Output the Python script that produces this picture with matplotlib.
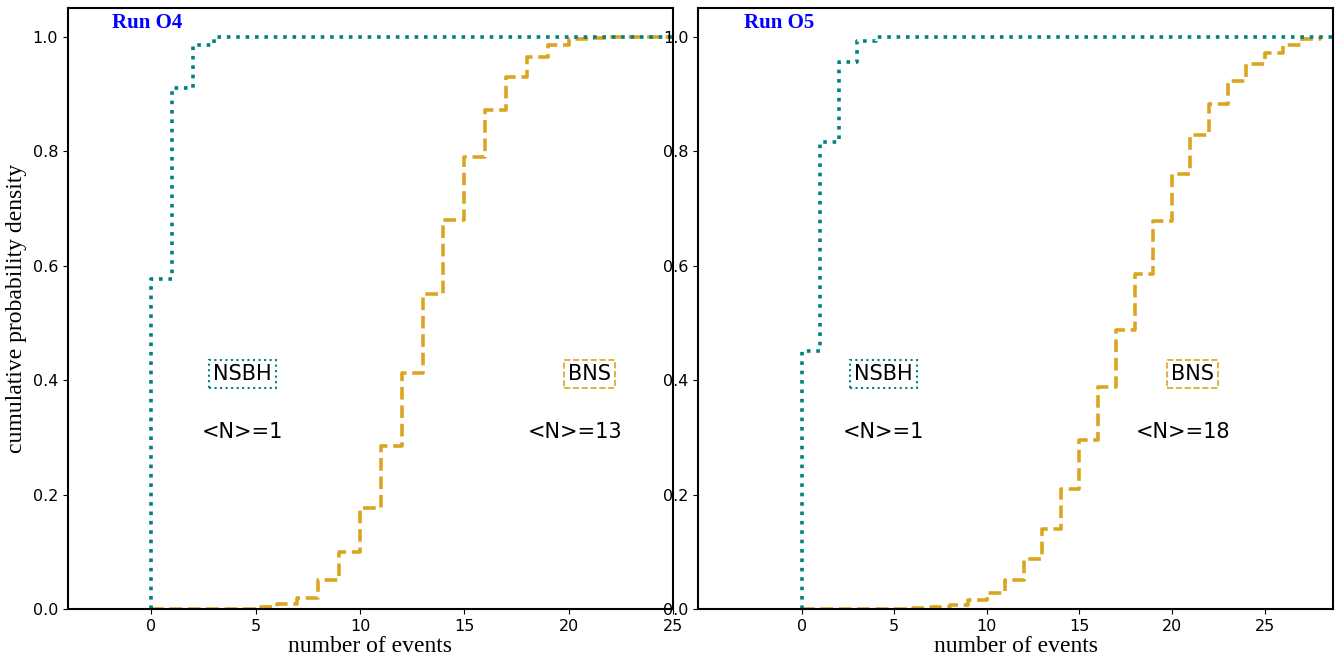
import matplotlib
matplotlib.use('Agg')
import matplotlib.pyplot as plt

# cumulative probability at each integer number of events
O4_NSBH_K = [0, 1, 2, 3, 25]
O4_NSBH_P = [0.577, 0.91, 0.985, 1.0, 1.0]
O4_BNS_K = list(range(0, 26))
O4_BNS_P = [0.0, 0.0, 0.0, 0.0, 0.0, 0.003, 0.008, 0.02, 0.05, 0.10, 0.177,
            0.285, 0.413, 0.55, 0.68, 0.79, 0.872, 0.93, 0.965, 0.985, 0.995,
            0.998, 1.0, 1.0, 1.0, 1.0]

O5_NSBH_K = [0, 1, 2, 3, 4, 28.7]
O5_NSBH_P = [0.45, 0.815, 0.955, 0.993, 1.0, 1.0]
O5_BNS_K = list(range(0, 29))
O5_BNS_P = [0.0, 0.0, 0.0, 0.0, 0.0, 0.0, 0.001, 0.003, 0.007, 0.015, 0.028,
            0.05, 0.088, 0.14, 0.21, 0.295, 0.388, 0.487, 0.585, 0.677, 0.76,
            0.828, 0.882, 0.922, 0.952, 0.972, 0.986, 0.995, 1.0]

TEAL = '#008080'
GOLD = '#DAA520'
SERIF = ['Liberation Serif', 'DejaVu Serif']

panels = [
    ('Run O4', O4_NSBH_K, O4_NSBH_P, O4_BNS_K, O4_BNS_P, '<N>=1', '<N>=13',
     (-4.0, 25.0), (4.35, 21.0), (4.35, 20.3), [0.0507, 0.0773, 0.4515, 0.9106]),
    ('Run O5', O5_NSBH_K, O5_NSBH_P, O5_BNS_K, O5_BNS_P, '<N>=1', '<N>=18',
     (-5.6, 28.7), (4.4, 21.1), (4.4, 20.6), [0.5209, 0.0773, 0.4739, 0.9106]),
]

fig = plt.figure(figsize=(13.4, 6.6), dpi=100)

for i, (title, nk, npr, bk, bp, n_lab, b_lab, xlim, box_x, n_x, rect) in enumerate(panels):
    ax = fig.add_axes(rect)
    ax.step(bk, bp, where='post', color=GOLD, linestyle=(0, (3.5, 1.6)), linewidth=2.6)
    ax.step([nk[0]] + nk, [0.0] + npr, where='post', color=TEAL, linestyle=(0, (1, 1.6)), linewidth=2.6)
    ax.set_xlim(*xlim)
    ax.set_ylim(0, 1.05)
    ax.set_xticks([0, 5, 10, 15, 20, 25])
    ax.set_yticks([0.0, 0.2, 0.4, 0.6, 0.8, 1.0])
    ax.tick_params(labelsize=11.5)
    for s in ax.spines.values():
        s.set_linewidth(1.5)
    ax.set_xlabel('number of events', family=SERIF, fontsize=17, labelpad=2)
    if i == 0:
        ax.set_ylabel('cumulative probability density', family=SERIF, fontsize=17)
    ax.text(0.073, 0.975, title, transform=ax.transAxes, color='blue', family=SERIF,
            fontsize=15, fontweight='bold', va='center')
    ax.text(box_x[0], 0.41, 'NSBH', fontsize=15, ha='center', va='center',
            bbox=dict(boxstyle='square,pad=0.2', fc='white', ec=TEAL, ls=':', lw=1.5))
    ax.text(box_x[1], 0.41, 'BNS', fontsize=15, ha='center', va='center',
            bbox=dict(boxstyle='square,pad=0.2', fc='white', ec=GOLD, ls='--', lw=1.2))
    ax.text(n_x[0], 0.31, n_lab, fontsize=15, ha='center', va='center')
    ax.text(n_x[1], 0.31, b_lab, fontsize=15, ha='center', va='center')

fig.savefig('out.png', dpi=100)
